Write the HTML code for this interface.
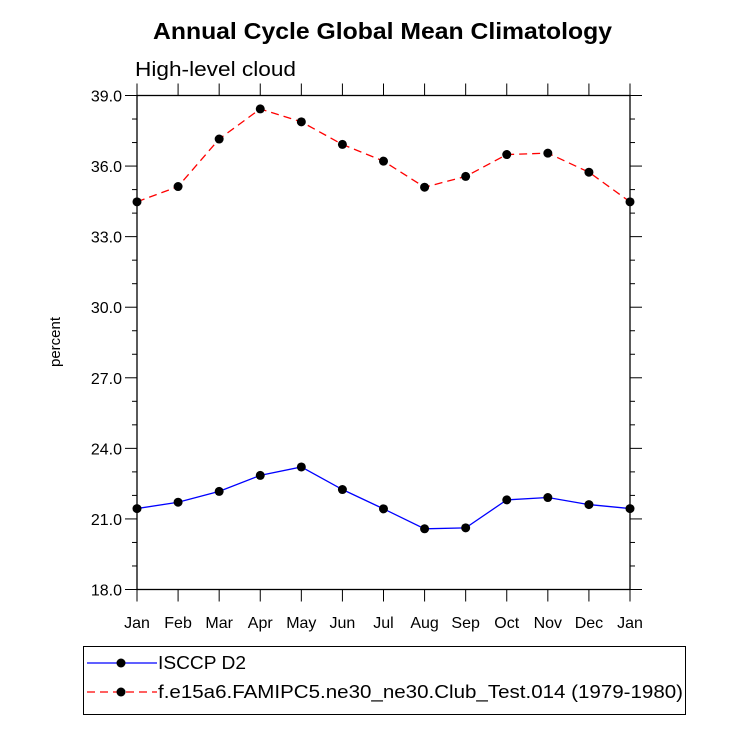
<!DOCTYPE html>
<html><head><meta charset="utf-8"><style>
html,body{margin:0;padding:0;background:#fff;}
svg{display:block;font-family:"Liberation Sans",Arial,sans-serif;}
</style></head><body>
<svg id="chart" width="732" height="732" viewBox="0 0 732 732">
<text x="153" y="39" font-size="23" font-weight="bold" textLength="459" lengthAdjust="spacingAndGlyphs">Annual Cycle Global Mean Climatology</text>
<text x="135" y="76" font-size="20" textLength="161" lengthAdjust="spacingAndGlyphs">High-level cloud</text>
<text transform="translate(60,342) rotate(-90)" text-anchor="middle" font-size="15">percent</text>
<g id="axes"></g>
<g id="series"></g>
<g>
<rect x="83.5" y="646.5" width="602" height="68" fill="none" stroke="#000" stroke-width="1"/>
<g>
<line x1="87" y1="663" x2="157" y2="663" stroke="#00f" stroke-width="1.3"/>
<circle cx="121" cy="663" r="4.5" fill="#000"/>
<text x="158" y="669" font-size="18" textLength="88" lengthAdjust="spacingAndGlyphs">ISCCP D2</text>
</g>
<g>
<line x1="87" y1="692" x2="157" y2="692" stroke="#f00" stroke-width="1.3" stroke-dasharray="8,5"/>
<circle cx="121" cy="692" r="4.5" fill="#000"/>
<text x="158" y="698" font-size="18" textLength="525" lengthAdjust="spacingAndGlyphs">f.e15a6.FAMIPC5.ne30_ne30.Club_Test.014 (1979-1980)</text>
</g>
</g>
</svg>
<script>
const months = ["Jan","Feb","Mar","Apr","May","Jun","Jul","Aug","Sep","Oct","Nov","Dec","Jan"];
const isccpValues = [21.44,21.71,22.17,22.85,23.21,22.25,21.43,20.58,20.62,21.81,21.91,21.61,21.44];
const modelValues = [34.48,35.13,37.15,38.43,37.88,36.92,36.21,35.10,35.56,36.49,36.55,35.74,34.48];
const yTickLabels = ["18.0","21.0","24.0","27.0","30.0","33.0","36.0","39.0"];
const yMin = 18, yMax = 39;

const NS = "http://www.w3.org/2000/svg";
const L = 137, R = 630, T = 95.5, B = 589.5;
const xs = i => L + (R - L) * i / (months.length - 1);
const ys = v => B - (v - yMin) / (yMax - yMin) * (B - T);
function mk(tag, attrs, parent) {
  const e = document.createElementNS(NS, tag);
  for (const k in attrs) e.setAttribute(k, attrs[k]);
  parent.appendChild(e);
  return e;
}
const axes = document.getElementById("axes");
const frame = mk("rect", {x: L, y: T, width: R - L, height: B - T, fill: "none", stroke: "#000", "stroke-width": 1.3}, axes);


for (let v = yMin; v <= yMax; v += 1) {
  const y = ys(v);
  const major = (v - yMin) % 3 === 0;
  const len = major ? 12 : 5;
  const t1 = mk("line", {x1: L - len, y1: y, x2: L, y2: y, stroke: "#000", "stroke-width": 1}, axes);
  
  
  const t2 = mk("line", {x1: R, y1: y, x2: R + len, y2: y, stroke: "#000", "stroke-width": 1}, axes);
  
  
}
yTickLabels.forEach((lab) => {
  const v = parseFloat(lab);
  const t = mk("text", {x: 122, y: ys(v) + 6, "text-anchor": "end", "font-size": 16}, axes);
  t.textContent = lab;
  
  
});
months.forEach((m, i) => {
  const x = xs(i);
  const a = mk("line", {x1: x, y1: B, x2: x, y2: B + 12, stroke: "#000", "stroke-width": 1}, axes);
  
  
  const b = mk("line", {x1: x, y1: T - 12, x2: x, y2: T, stroke: "#000", "stroke-width": 1}, axes);
  
  
  const t = mk("text", {x: x, y: 628, "text-anchor": "middle", "font-size": 16}, axes);
  t.textContent = m;
  
  
});
const series = document.getElementById("series");
function drawSeries(vals, color, dash, name) {
  const g = mk("g", {}, series);
  
  
  const pts = vals.map((v, i) => xs(i) + "," + ys(v)).join(" ");
  const pl = mk("polyline", {points: pts, fill: "none", stroke: color, "stroke-width": 1.3, "stroke-dasharray": dash}, g);
  
  
  vals.forEach((v, i) => {
    const c = mk("circle", {cx: xs(i), cy: ys(v), r: 4.5, fill: "#000"}, g);
    
    
  });
}
drawSeries(isccpValues, "#00f", "none", "isccp-series");
drawSeries(modelValues, "#f00", "8,5", "model-series");
</script>
</body></html>
